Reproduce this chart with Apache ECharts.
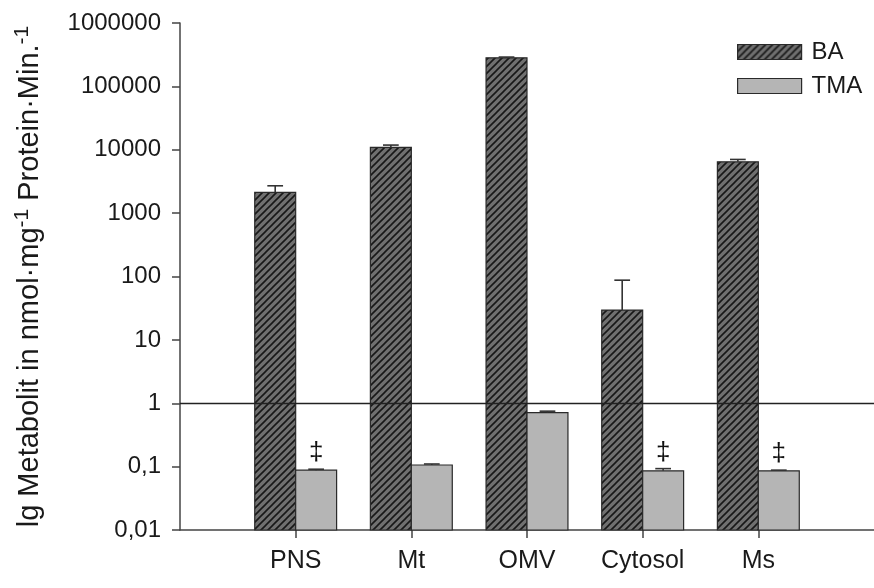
<!DOCTYPE html>
<html>
<head>
<meta charset="utf-8">
<script src="https://cdn.jsdelivr.net/npm/echarts@6/dist/echarts.min.js"></script>
<style>html,body{margin:0;padding:0;background:#fff;}#c{width:874px;height:588px;}</style>
</head>
<body>
<div id="c"></div>
<script>
const categories = ['PNS', 'Mt', 'OMV', 'Cytosol', 'Ms'];
const baValues = [2120, 10900, 282000, 29.5, 6450];
const baErrors = [580, 950, 8000, 58, 580];
const tmaValues = [0.088, 0.106, 0.71, 0.086, 0.086];
const tmaErrors = [0.003, 0.004, 0.04, 0.007, 0.002];
const tmaMarks = ['\u2021', '', '', '\u2021', '\u2021'];
const yTickValues = [0.01, 0.1, 1, 10, 100, 1000, 10000, 100000, 1000000];
const yTickLabels = ['0,01', '0,1', '1', '10', '100', '1000', '10000', '100000', '1000000'];
const refLineValue = 1;

const FONT = "'Liberation Sans', Arial, sans-serif";
const Y_MIN = yTickValues[0], Y_MAX = yTickValues[yTickValues.length - 1];
const BAR_W = 0.354;   // bar width in x-axis units
const CAP_HALF = 0.068;

function hatch() {
  const s = 7;
  const cv = document.createElement('canvas');
  cv.width = s; cv.height = s;
  const g = cv.getContext('2d');
  g.fillStyle = '#707070';
  g.fillRect(0, 0, s, s);
  g.strokeStyle = '#181818';
  g.lineWidth = 1.6;
  g.beginPath();
  g.moveTo(-1, s + 1); g.lineTo(s + 1, -1);
  g.moveTo(-2, 2); g.lineTo(2, -2);
  g.moveTo(s - 2, s + 2); g.lineTo(s + 2, s - 2);
  g.stroke();
  return cv;
}
const baFill = { image: hatch(), repeat: 'repeat' };
const tmaFill = '#b5b5b5';

function makeRender(side, fill, marks) {
  return function (params, api) {
    const x = api.value(0), v = api.value(1), e = api.value(2);
    const x0 = side < 0 ? x - BAR_W : x;
    const x1 = side < 0 ? x : x + BAR_W;
    const xc = (x0 + x1) / 2;
    const pTop = api.coord([x0, v]);
    const pBot = api.coord([x1, Y_MIN]);
    const eTop = api.coord([xc, v + e]);
    const eBase = api.coord([xc, v]);
    const cL = api.coord([xc - CAP_HALF, v + e]);
    const cR = api.coord([xc + CAP_HALF, v + e]);
    const children = [
      { type: 'rect', shape: { x: pTop[0], y: pTop[1], width: pBot[0] - pTop[0], height: pBot[1] - pTop[1] },
        style: { fill: fill, stroke: '#2a2a2a', lineWidth: 1.2 } },
      { type: 'line', shape: { x1: eBase[0], y1: eBase[1], x2: eTop[0], y2: eTop[1] }, style: { stroke: '#333', lineWidth: 1.6 } },
      { type: 'line', shape: { x1: cL[0], y1: cL[1], x2: cR[0], y2: cR[1] }, style: { stroke: '#333', lineWidth: 1.6 } }
    ];
    const m = marks ? marks[params.dataIndex] : '';
    if (m) {
      children.push({ type: 'text', style: { text: m, x: eTop[0], y: eTop[1] - 3, align: 'center', verticalAlign: 'bottom',
        font: "26px 'Liberation Sans', Arial, sans-serif", fill: '#111' } });
    }
    return { type: 'group', children: children };
  };
}

const chart = echarts.init(document.getElementById('c'), null, { renderer: 'canvas' });
chart.setOption({
  animation: false,
  backgroundColor: '#fff',
  textStyle: { fontFamily: FONT },
  grid: { left: 180, top: 23, bottom: 58, width: 705 },
  legend: {
    orient: 'vertical', left: 732, top: 32, itemWidth: 64, itemHeight: 15, itemGap: 4,
    textStyle: { fontFamily: FONT, fontSize: 24, color: '#1a1a1a', lineHeight: 30, padding: [0, 0, 0, 5] },
    data: [
      { name: 'BA', icon: 'rect', itemStyle: { color: baFill, borderColor: '#2a2a2a', borderWidth: 1.2 } },
      { name: 'TMA', icon: 'rect', itemStyle: { color: tmaFill, borderColor: '#2a2a2a', borderWidth: 1.2 } }
    ]
  },
  xAxis: {
    type: 'value', min: 0, max: 6,
    splitLine: { show: false },
    axisLine: { show: true, onZero: false, lineStyle: { color: '#444', width: 1.5 } },
    axisTick: { show: true, length: 8, customValues: [1, 2, 3, 4, 5], lineStyle: { color: '#444', width: 1.5 } },
    axisLabel: { customValues: [1, 2, 3, 4, 5], formatter: v => categories[Math.round(v) - 1] || '',
      fontFamily: FONT, fontSize: 25, color: '#1a1a1a', margin: 19 }
  },
  yAxis: {
    type: 'log', logBase: 10, min: Y_MIN, max: Y_MAX, splitNumber: 8,
    splitLine: { show: false },
    axisLine: { show: true, lineStyle: { color: '#444', width: 1.5 } },
    axisTick: { show: true, length: 8, lineStyle: { color: '#444', width: 1.5 } },
    axisLabel: { fontFamily: FONT, fontSize: 24, color: '#1a1a1a', margin: 19,
      formatter: v => yTickLabels[Math.round(Math.log10(v)) + 2] },
    name: 'lg Metabolit in nmol\u00b7mg{s|-1} Protein\u00b7Min.{s|-1}',
    nameLocation: 'middle', nameRotate: 90, nameGap: 132,
    nameTextStyle: { fontFamily: FONT, fontSize: 29, color: '#1a1a1a',
      rich: { s: { fontFamily: FONT, fontSize: 21, verticalAlign: 'top', padding: [0, 0, 15, 0] } } }
  },
  series: [
    { name: 'BA', type: 'custom', renderItem: makeRender(-1, baFill, null),
      itemStyle: { color: baFill }, data: baValues.map((v, i) => [i + 1, v, baErrors[i]]), z: 2 },
    { name: 'TMA', type: 'custom', renderItem: makeRender(1, tmaFill, tmaMarks),
      itemStyle: { color: tmaFill }, data: tmaValues.map((v, i) => [i + 1, v, tmaErrors[i]]), z: 2 },
    { name: 'ref', type: 'line', data: [], silent: true, z: 5,
      markLine: { silent: true, symbol: 'none', label: { show: false },
        lineStyle: { color: '#222', width: 1.3, type: 'solid' }, data: [{ yAxis: refLineValue }] } }
  ]
});
</script>
</body>
</html>
